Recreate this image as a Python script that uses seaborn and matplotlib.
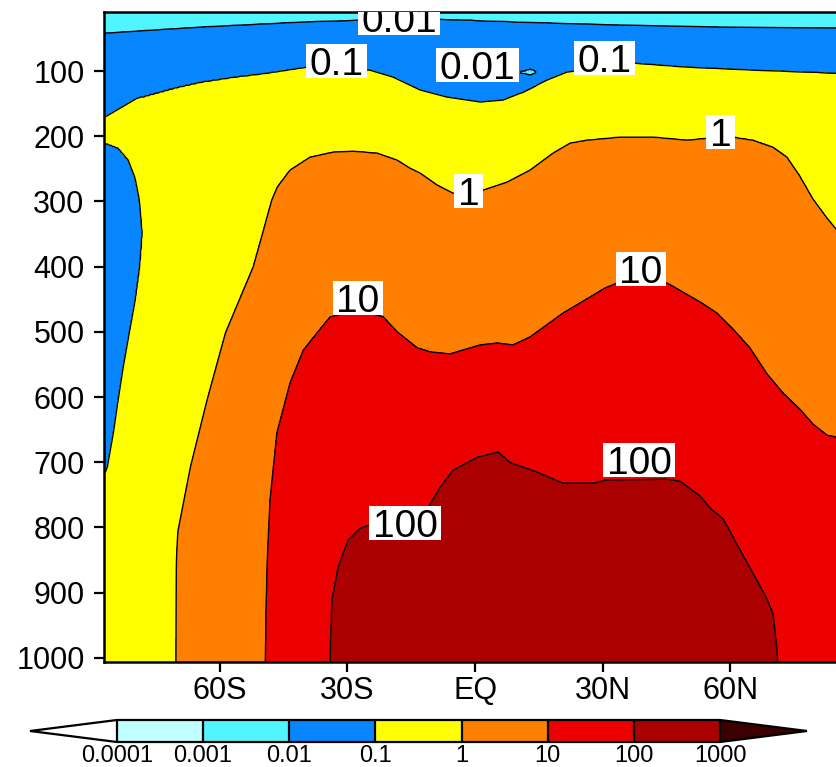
import numpy as np
import matplotlib
matplotlib.use("Agg")
import matplotlib.pyplot as plt
import seaborn as sns
from matplotlib.colors import ListedColormap, BoundaryNorm
from matplotlib.patches import Rectangle
from matplotlib.transforms import IdentityTransform

# ---------------- data: contour traces (lat deg, pressure hPa)
c001_lat = [-86.9, -64.6, -41.1, -27.0, -8.2, 10.6, 34.1, 57.6, 85.0]
c001_p = [41.7, 32.5, 24.8, 21.8, 20.2, 24.8, 29.4, 32.5, 34.0]

c01_lat = [-86.9, -79.4, -70.9, -64.6, -56.8, -48.9, -39.5, -24.7, -19.3, -12.9, -6.6,
           1.2, 6.6, 11.3, 16.9, 21.6, 37.1, 49.8, 65.3, 85.0]
c01_p = [170.6, 141.4, 126.1, 116.9, 109.2, 103.1, 93.9, 98.5, 109.2, 129.1, 139.9,
         147.5, 144.5, 132.2, 113.8, 101.5, 87.7, 93.9, 98.5, 103.1]

# closed 0.1 region against the left edge (upper and lower branches)
strip_top_lat = [-86.9, -83.9, -81.5, -79.9, -78.9, -78.3]
strip_top_p = [210.4, 218.0, 236.5, 264.0, 298.0, 348.5]
strip_bot_lat = [-86.9, -86.4, -85.0, -83.9, -82.7, -81.3, -79.9, -78.9, -78.3]
strip_bot_p = [716.0, 707.0, 655.0, 605.0, 554.0, 502.0, 451.0, 400.6, 348.5]

# tiny 0.01 island
isl_lat = [10.8, 13.0, 14.4]
isl_top = [102.0, 97.5, 101.5]
isl_bot = [102.0, 106.0, 101.5]

c1_lat = [-70.3, -70.2, -69.9, -66.9, -63.0, -58.7, -52.2, -47.8, -46.5, -43.5, -38.8,
          -33.4, -28.7, -23.0, -18.3, -15.3, -12.9, -8.9, -5.2, 1.9, 7.5, 12.9, 18.3,
          22.3, 26.3, 34.1, 41.8, 49.8, 54.7, 60.6, 65.3, 70.0, 73.3, 76.3, 79.4, 82.7, 85.0]
c1_p = [1006, 860.7, 808.6, 707.4, 604.6, 501.8, 400.6, 297.9, 277.9, 251.8, 231.9,
        224.2, 222.7, 225.8, 236.5, 248.8, 256.4, 274.8, 287.1, 282.5, 270.2, 251.8, 225.8,
        210.4, 205.8, 201.2, 201.2, 205.8, 202.8, 201.2, 205.8, 216.6, 231.9, 261.0, 296.3,
        325.5, 343.9]

c10_lat = [-49.3, -48.9, -48.2, -46.6, -43.5, -40.4, -37.2, -34.1, -27.5, -21.6, -18.3,
           -13.6, -10.6, -5.9, -2.8, 1.2, 5.2, 8.9, 12.9, 20.7, 27.0, 30.5, 33.4, 45.1,
           52.9, 56.8, 60.6, 64.6, 68.6, 72.4, 76.3, 79.4, 82.7, 85.0]
c10_p = [1006, 860.7, 758, 655, 578, 528, 501.8, 477, 466, 477, 500,
         524.5, 530.7, 534, 527.9, 520.2, 517.2, 520.2, 508, 471, 446.6, 432.8, 425, 425,
         454.3, 471, 495.7, 524.8, 564.7, 593.9, 618.4, 641.4, 658.3, 661.3]

c100_lat = [-34.1, -33.6, -32.2, -29.8, -27.0, -24.7, -11.0, -8.2, -5.2, 0.5, 5.4, 8.2,
            14.6, 20.7, 27.7, 31.0, 45.1, 48.2, 52.9, 55.2, 58.3, 62.3, 66.2, 68.6, 70.0, 71.2]
c100_p = [1006, 911, 861, 819, 801, 796, 769, 738, 712, 692, 684, 700,
          715, 732, 732, 727, 726, 729, 752, 770, 787, 835, 881, 910, 933, 1006]

# colour bar bounds (log10) and tick labels
cb_levels = [-4, -3, -2, -1, 0, 1, 2, 3]
cb_labels = ["0.0001", "0.001", "0.01", "0.1", "1", "10", "100", "1000"]
line_levels = [-2, -1, 0, 1, 2]
lat_ticks = [-60, -30, 0, 30, 60]
lat_labels = ["60S", "30S", "EQ", "30N", "60N"]
p_ticks = [100, 200, 300, 400, 500, 600, 700, 800, 900, 1000]

# label placement (layout): level, lat, pressure of the label box centre
label_pos = [(-2, -17.85, 18.7), (-1, -32.5, 83.9), (-2, 0.6, 90.8), (-1, 30.3, 79.3),
             (0, -1.5, 283.3), (0, 57.7, 194.3), (1, -27.5, 447.4), (1, 39.0, 404.4),
             (2, -16.4, 792.5), (2, 38.6, 696.6)]

# ---------------- build the log10 field from the traces, column by column
lat_g = np.arange(-87.2, 87.21, 0.2)
p_g = np.arange(8.0, 1012.1, 2.0)
F = np.empty((len(p_g), len(lat_g)))
for j, phi in enumerate(lat_g):
    kp = [8.0]
    kv = [-2.5]
    p001 = np.interp(phi, c001_lat, c001_p)
    kp.append(p001); kv.append(-2.0)
    if isl_lat[0] < phi < isl_lat[-1]:
        t = np.interp(phi, isl_lat, isl_top)
        b = np.interp(phi, isl_lat, isl_bot)
        kp += [(p001 + t) / 2, t, (t + b) / 2, b]; kv += [-1.5, -2.0, -2.3, -2.0]
    p01 = np.interp(phi, c01_lat, c01_p)
    kp.append(p01); kv.append(-1.0)
    last = -1
    if phi < strip_top_lat[-1]:
        t = np.interp(phi, strip_top_lat, strip_top_p)
        b = np.interp(phi, strip_bot_lat, strip_bot_p)
        kp += [(p01 + t) / 2, t, (t + b) / 2, b]; kv += [-0.7, -1.0, -1.3, -1.0]
    if phi >= c1_lat[0]:
        kp.append(np.interp(phi, c1_lat, c1_p)); kv.append(0.0); last = 0
    if phi >= c10_lat[0]:
        kp.append(np.interp(phi, c10_lat, c10_p)); kv.append(1.0); last = 1
    if c100_lat[0] <= phi <= c100_lat[-1]:
        kp.append(np.interp(phi, c100_lat, c100_p)); kv.append(2.0); last = 2
    kp.append(1012.0); kv.append(last + 0.5)
    F[:, j] = np.interp(p_g, kp, kv)

# ---------------- style
sns.set_style("ticks")
plt.rcParams["font.family"] = ["Liberation Sans", "DejaVu Sans"]
plt.rcParams["axes.edgecolor"] = "black"
plt.rcParams["xtick.color"] = "black"
plt.rcParams["ytick.color"] = "black"
plt.rcParams["contour.negative_linestyle"] = "solid"

colors = sns.color_palette(["#C0FFFF", "#50F5FF", "#0886FF", "#FFFF00",
                            "#FF8000", "#EC0000", "#AA0000"])
cmap = ListedColormap(colors)
cmap.set_under("white")
cmap.set_over("#3C0000")
norm = BoundaryNorm(cb_levels, cmap.N)

W, H, DPI = 837, 767, 100
fig = plt.figure(figsize=(W / DPI, H / DPI), dpi=DPI)
ax = fig.add_axes([104 / W, (H - 662) / H, (846.2 - 104) / W, 650 / H])

cf = ax.contourf(lat_g, p_g, F, levels=cb_levels, cmap=cmap, norm=norm, extend="both")
ax.contour(lat_g, p_g, F, levels=line_levels, colors="black", linewidths=1.0,
           linestyles="solid")

ax.set_xlim(-87.2, 87.2)
ax.set_ylim(1006.4, 9.5)
ax.set_xticks(lat_ticks)
ax.set_xticklabels(lat_labels)
ax.set_yticks(p_ticks)
ax.tick_params(axis="both", labelsize=22, width=1.6, direction="out")
ax.tick_params(axis="x", length=7, pad=3)
ax.tick_params(axis="y", length=7, pad=7)
for s in ax.spines.values():
    s.set_linewidth(1.8)
ax.grid(False)
ax.set_xlabel("")
ax.set_ylabel("")

# ---------------- colour bar
cax = fig.add_axes([30 / W, (H - 742) / H, 777 / W, 22 / H])
cb = fig.colorbar(cf, cax=cax, orientation="horizontal", extend="both",
                  extendfrac=0.144, drawedges=True)
cb.set_ticks(cb_levels)
cb.set_ticklabels(cb_labels)
cb.ax.tick_params(length=0, labelsize=17, pad=2)
cb.outline.set_linewidth(1.6)
cb.outline.set_edgecolor("black")
cb.dividers.set_color("black")
cb.dividers.set_linewidth(1.6)

# ---------------- contour labels with tight white boxes (clipped to the plot area)
fig.canvas.draw()
renderer = fig.canvas.get_renderer()
for lev, la, pp in label_pos:
    cx, cy = ax.transData.transform((la, pp))
    t = ax.text(cx, cy - 14, f"{10.0 ** lev:g}", transform=IdentityTransform(),
                ha="center", va="baseline", fontsize=28, color="black", zorder=8)
    t.set_clip_box(ax.bbox)
    t.set_clip_on(True)
    w = t.get_window_extent(renderer).width + 7
    r = Rectangle((cx - w / 2, cy - 17), w, 34, transform=IdentityTransform(),
                  facecolor="white", edgecolor="none", zorder=7)
    ax.add_patch(r)
    r.set_clip_box(ax.bbox)
    r.set_clip_on(True)

fig.savefig("out.png", dpi=DPI)
